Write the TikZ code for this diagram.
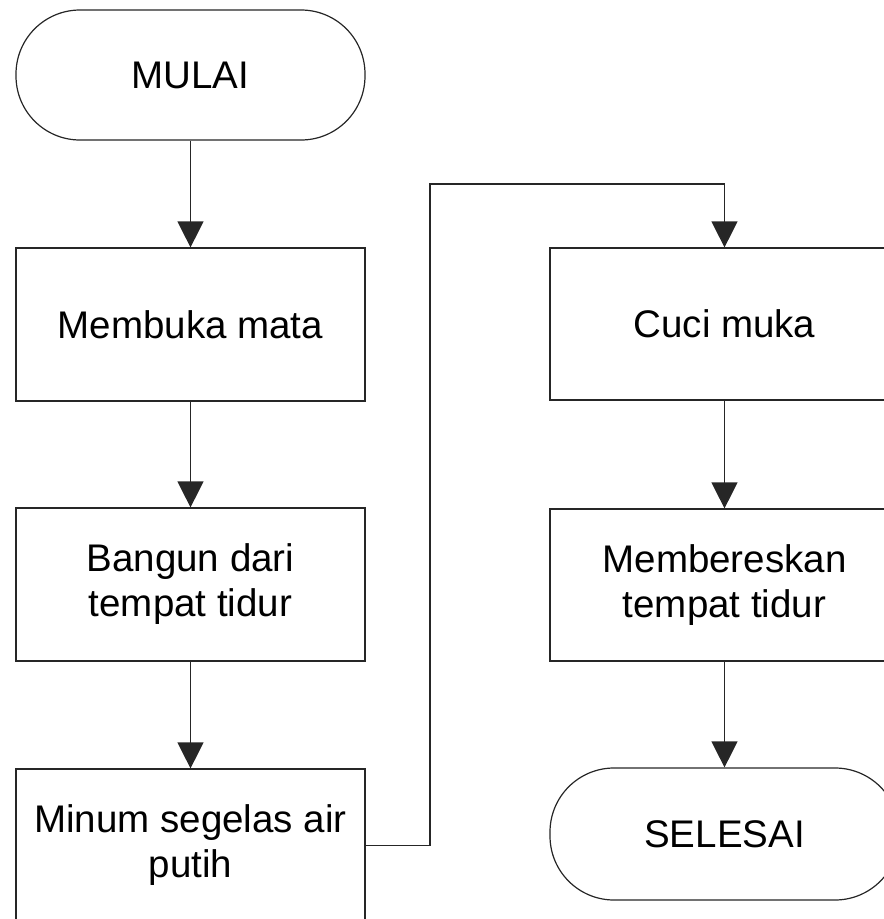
\documentclass[tikz,border=0pt]{standalone}
\usepackage{fontspec}
\setmainfont{Liberation Sans}
\usetikzlibrary{arrows.meta}
\tikzset{
  boxstyle/.style={draw=black!85, line width=1.2pt, rectangle, minimum width=349pt, minimum height=153pt, inner sep=0pt, align=center, font=\fontsize{38.5}{45}\selectfont},
  termstyle/.style={boxstyle, rounded corners=64pt, minimum height=130pt},
  arr/.style={draw=black!85, line width=1.2pt, -{Triangle[width=26pt,length=26pt]}}
}
\begin{document}
\begin{tikzpicture}[x=1pt,y=-1pt]
\useasboundingbox (0,0) rectangle (884,919);
\clip (0,0) rectangle (884,919);
\node[termstyle] (start) at (190.5,75) {MULAI};
\node[boxstyle] (b1) at (190.5,324.5) {Membuka mata};
\node[boxstyle] (b2) at (190.5,584.5) {Bangun dari\\tempat tidur};
\node[boxstyle] (b3) at (190.5,845.5) {Minum segelas air\\putih};
\node[boxstyle, minimum height=152pt] (cuci) at (724.5,324) {Cuci muka};
\node[boxstyle, minimum height=152pt] (mem) at (724.5,585) {Membereskan\\tempat tidur};
\node[termstyle, minimum height=132pt] (stop) at (724.5,834) {SELESAI};
\coordinate (k1) at (430,184);
\draw[arr] (start) -- (b1);
\draw[arr] (b1) -- (b2);
\draw[arr] (b2) -- (b3);
\draw[arr] (b3.east) -| (k1) -| (cuci.north);
\draw[arr] (cuci) -- (mem);
\draw[arr] (mem) -- (stop);
\end{tikzpicture}
\end{document}
